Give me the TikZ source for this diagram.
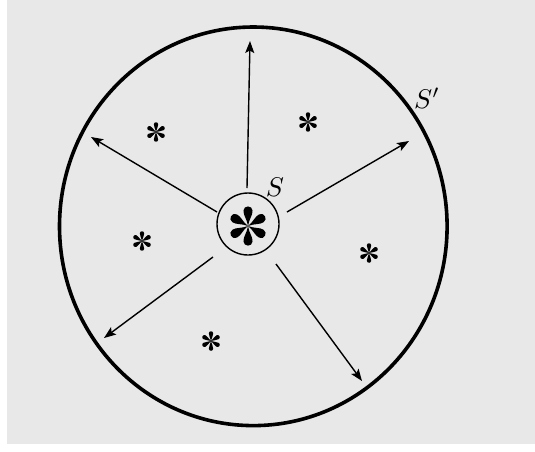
\documentclass[tikz,border=0pt]{standalone}
\usetikzlibrary{arrows.meta}
\definecolor{bggray}{RGB}{232,232,232}
\tikzset{
  ray/.style={line width=1.4pt,-{Stealth[length=12pt,width=9pt,inset=2.5pt]}},
  lbl/.style={inner sep=0pt,scale=2.7},
  tstar/.pic={
    \foreach \ang in {90,30,-30,-90,-150,150}{
      \fill[black,rotate=\ang-90]
        (0,0) .. controls (0.05,-0.35) and (0.24,-0.52) .. (0.22,-0.76)
        .. controls (0.2,-1.02) and (-0.2,-1.02) .. (-0.22,-0.76)
        .. controls (-0.24,-0.52) and (-0.05,-0.35) .. cycle;
    }
  }
}
\begin{document}
\begin{tikzpicture}[x=1pt,y=-1pt]
\useasboundingbox (0,0) rectangle (535,451);
\fill[bggray] (7,0) rectangle (535,444);
% outer surface S'
\draw[line width=3.6pt] (253.3,226.3) ellipse [x radius=193.8, y radius=199.3];
% inner surface S
\node[circle,draw,line width=1.4pt,minimum size=62pt,inner sep=0pt] (inner) at (248,224) {};
\pic (big) at (248,226) [scale=20.5] {tstar};
\node[lbl] (S) at (275,187) {$S$};
\node[lbl] (Sp) at (427,98) {$S'$};
% small stars
\pic (s1) at (156,132) [scale=10.2] {tstar};
\pic (s2) at (308,122) [scale=10.2] {tstar};
\pic (s3) at (142,241) [scale=10.2] {tstar};
\pic (s4) at (369,253) [scale=10.2] {tstar};
\pic (s5) at (211,341) [scale=10.2] {tstar};
% ray endpoints
\coordinate (a1) at (247,188); \coordinate (b1) at (250,41);
\coordinate (a2) at (217,212); \coordinate (b2) at (91,137);
\coordinate (a3) at (287,212); \coordinate (b3) at (409,141);
\coordinate (a4) at (213,257); \coordinate (b4) at (104,338);
\coordinate (a5) at (276,264); \coordinate (b5) at (362,381);
\draw[ray] (a1) -- (b1);
\draw[ray] (a2) -- (b2);
\draw[ray] (a3) -- (b3);
\draw[ray] (a4) -- (b4);
\draw[ray] (a5) -- (b5);
\end{tikzpicture}
\end{document}
